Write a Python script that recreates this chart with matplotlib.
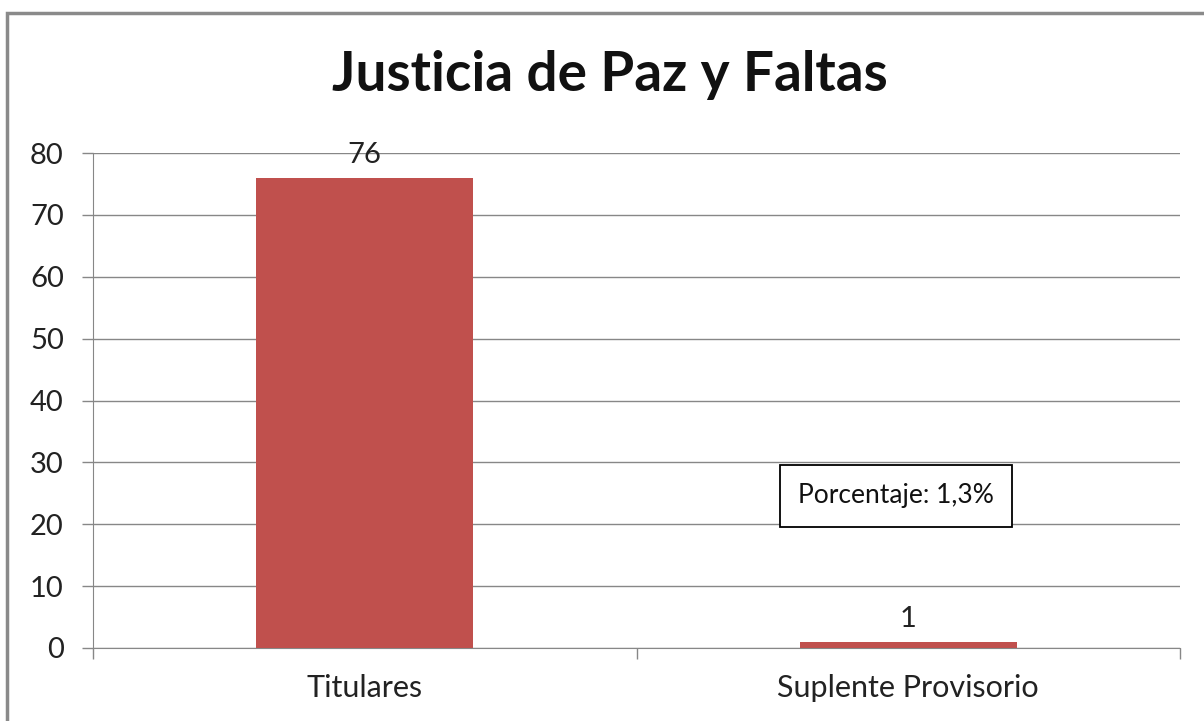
import matplotlib.pyplot as plt
from matplotlib.patches import Rectangle

categorias = ["Titulares", "Suplente Provisorio"]
valores = [76, 1]
y_ticks = [0, 10, 20, 30, 40, 50, 60, 70, 80]
titulo = "Justicia de Paz y Faltas"
nota = "Porcentaje: 1,3%"

plt.rcParams["font.family"] = ["Lato", "DejaVu Sans"]

fig = plt.figure(figsize=(12.04, 7.21), dpi=100)
ax = fig.add_axes([93 / 1204, 1 - 648 / 721, (1180 - 93) / 1204, (648 - 153) / 721])

gris = "#878787"
x = list(range(len(categorias)))
ax.bar(x, valores, width=0.4, color="#C0504D", zorder=3)

for xi, v in zip(x, valores):
    ax.annotate(str(v), (xi, v), xytext=(0, 7), textcoords="offset points",
                ha="center", va="bottom", fontsize=21, color="#222222")

ax.set_xlim(-0.5, len(categorias) - 0.5)
ax.set_ylim(0, 80)
ax.set_yticks(y_ticks)
ax.yaxis.grid(True, color=gris, linewidth=1, zorder=0)
ax.set_xticks(x)
ax.set_xticklabels(categorias, fontsize=22, color="#222222")
ax.set_xticks([-0.5, 0.5, 1.5], minor=True)
ax.tick_params(axis="x", which="major", length=0, pad=19)
ax.tick_params(axis="x", which="minor", length=8, color=gris, width=1)
ax.tick_params(axis="y", length=8, color=gris, width=1, labelsize=21, labelcolor="#222222", pad=13)

for s in ["top", "right"]:
    ax.spines[s].set_visible(False)
ax.spines["left"].set_color(gris)
ax.spines["bottom"].set_color(gris)

fig.text(610 / 1204, 1 - 75 / 721, titulo, ha="center", va="center",
         fontsize=39.5, fontweight="bold", color="#111111")

ax.text((896 - 93) / 1087, (648 - 496) / 495, nota,
        transform=ax.transAxes, ha="center", va="center", fontsize=19,
        color="#111111",
        bbox=dict(boxstyle="square,pad=0.7", facecolor="white", edgecolor="black", linewidth=1.3),
        zorder=5)

fig.add_artist(Rectangle((7 / 1204, -0.1), 1.2, 1 - 13 / 721 + 0.1, transform=fig.transFigure,
                         fill=False, edgecolor="#8a8a8a", linewidth=2.5))

fig.savefig("out.png", dpi=100)
